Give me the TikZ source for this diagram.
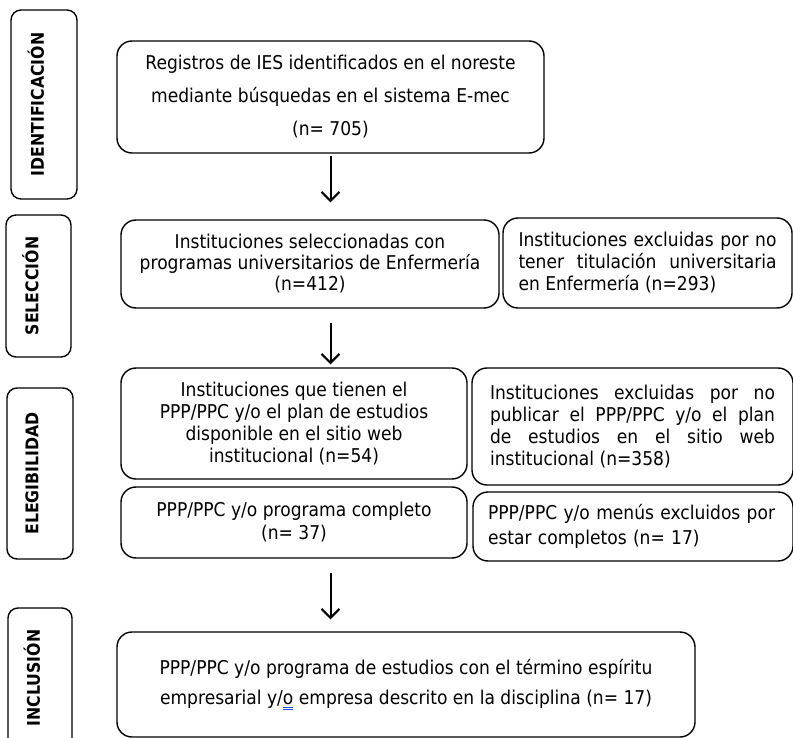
\documentclass[tikz,border=0pt]{standalone}
\usepackage{fontspec}
\setmainfont{DejaVu Sans}[FakeStretch=0.9]
\usetikzlibrary{arrows.meta}
\definecolor{markblue}{RGB}{40,80,230}
\newcommand{\spellmark}[1]
{\setbox0\hbox{#1}%
\rlap{\textcolor{markblue}{\rule[-3pt]{\wd0}{0.8pt}}}%
\rlap{\textcolor{markblue}{\rule[-5.5pt]{\wd0}{0.8pt}}}\box0{}}

\tikzset{
  box/.style={draw, line width=1.4pt, rounded corners=15pt, inner sep=0pt, align=center},
  stage/.style={draw, line width=1.4pt, rounded corners=10pt, inner sep=0pt},
  stagetext/.style={rotate=90, font=\bfseries\fontsize{17.5}{20}\selectfont},
  flow/.style={line width=2pt, -{Straight Barb[length=9pt,width=18pt]}}
}

\begin{document}
\begin{tikzpicture}[x=1pt,y=-1pt]
\useasboundingbox (0,0) rectangle (793,738);

% stages on the left
\foreach \n/\t/\x/\y/\w/\h in {stIdent/IDENTIFICACIÓN/44/104.5/66/189,
  stSel/SELECCIÓN/38.5/286/65/142, stEleg/ELEGIBILIDAD/40/473.5/66/171,
  stIncl/INCLUSIÓN/40/678/64/140}
{
\node[stage, minimum width=\w pt, minimum height=\h pt] (\n) at (\x,\y) {};
\node[stagetext] (\n-t) at ([xshift=-8pt]\n.center) {\t};
}

% main column
\node[box, minimum width=427pt, minimum height=112pt, font=\fontsize{19}{33}\selectfont]
  (reg) at (330.5,97) {Registros de IES identificados en el noreste\\
  mediante búsquedas en el sistema E-mec\\(n= 705)};
\node[box, minimum width=378pt, minimum height=88pt, font=\fontsize{19}{21}\selectfont]
  (sel) at (310,264) {Instituciones seleccionadas con\\
  programas universitarios de Enfermería\\(n=412)};
\node[box, minimum width=346pt, minimum height=111pt, font=\fontsize{19}{22}\selectfont]
  (tiene) at (294,423.5) {Instituciones que tienen el\\PPP/PPC y/o el plan de estudios\\
  disponible en el sitio web\\institucional (n=54)};
\node[box, minimum width=346pt, minimum height=71pt, font=\fontsize{19}{23}\selectfont]
  (compl) at (294,522.5) {PPP/PPC y/o programa completo\\(n= 37)};
\node[box, minimum width=578pt, minimum height=105pt, font=\fontsize{19}{30}\selectfont]
  (incl) at (406,684.5) {PPP/PPC y/o programa de estudios con el término espíritu\\
  empresarial y/\spellmark{o} empresa descrito en la disciplina (n= 17)};

% excluded on the right
\node[box, minimum width=289pt, minimum height=90pt, text width=258pt, align=justify,
  font=\fontsize{19}{22}\selectfont] (exsel) at (647.5,263)
  {Instituciones excluidas por no\linebreak tener titulación universitaria\linebreak
  en Enfermería (n=293)};
\node[box, minimum width=321pt, minimum height=117pt, text width=285pt, align=justify,
  font=\fontsize{19}{22}\selectfont] (exweb) at (632.5,426.5)
  {Instituciones excluidas por no\linebreak publicar el PPP/PPC y/o el plan\linebreak
  de estudios en el sitio web\linebreak institucional (n=358)};
\node[box, minimum width=320pt, minimum height=69pt, text width=290pt, align=left,
  font=\fontsize{19}{25}\selectfont] (exmenu) at (633,526.5)
  {PPP/PPC y/o menús excluidos por\\estar completos (n= 17)};

% arrows down the main column
\foreach \a/\b/\s/\e in {reg/sel/2/17, sel/tiene/14/3, compl/incl/14/12}
\draw[flow, shorten <=\s pt, shorten >=\e pt] (reg.south |- \a.south) -- (reg.south |- \b.north);
\end{tikzpicture}
\end{document}
